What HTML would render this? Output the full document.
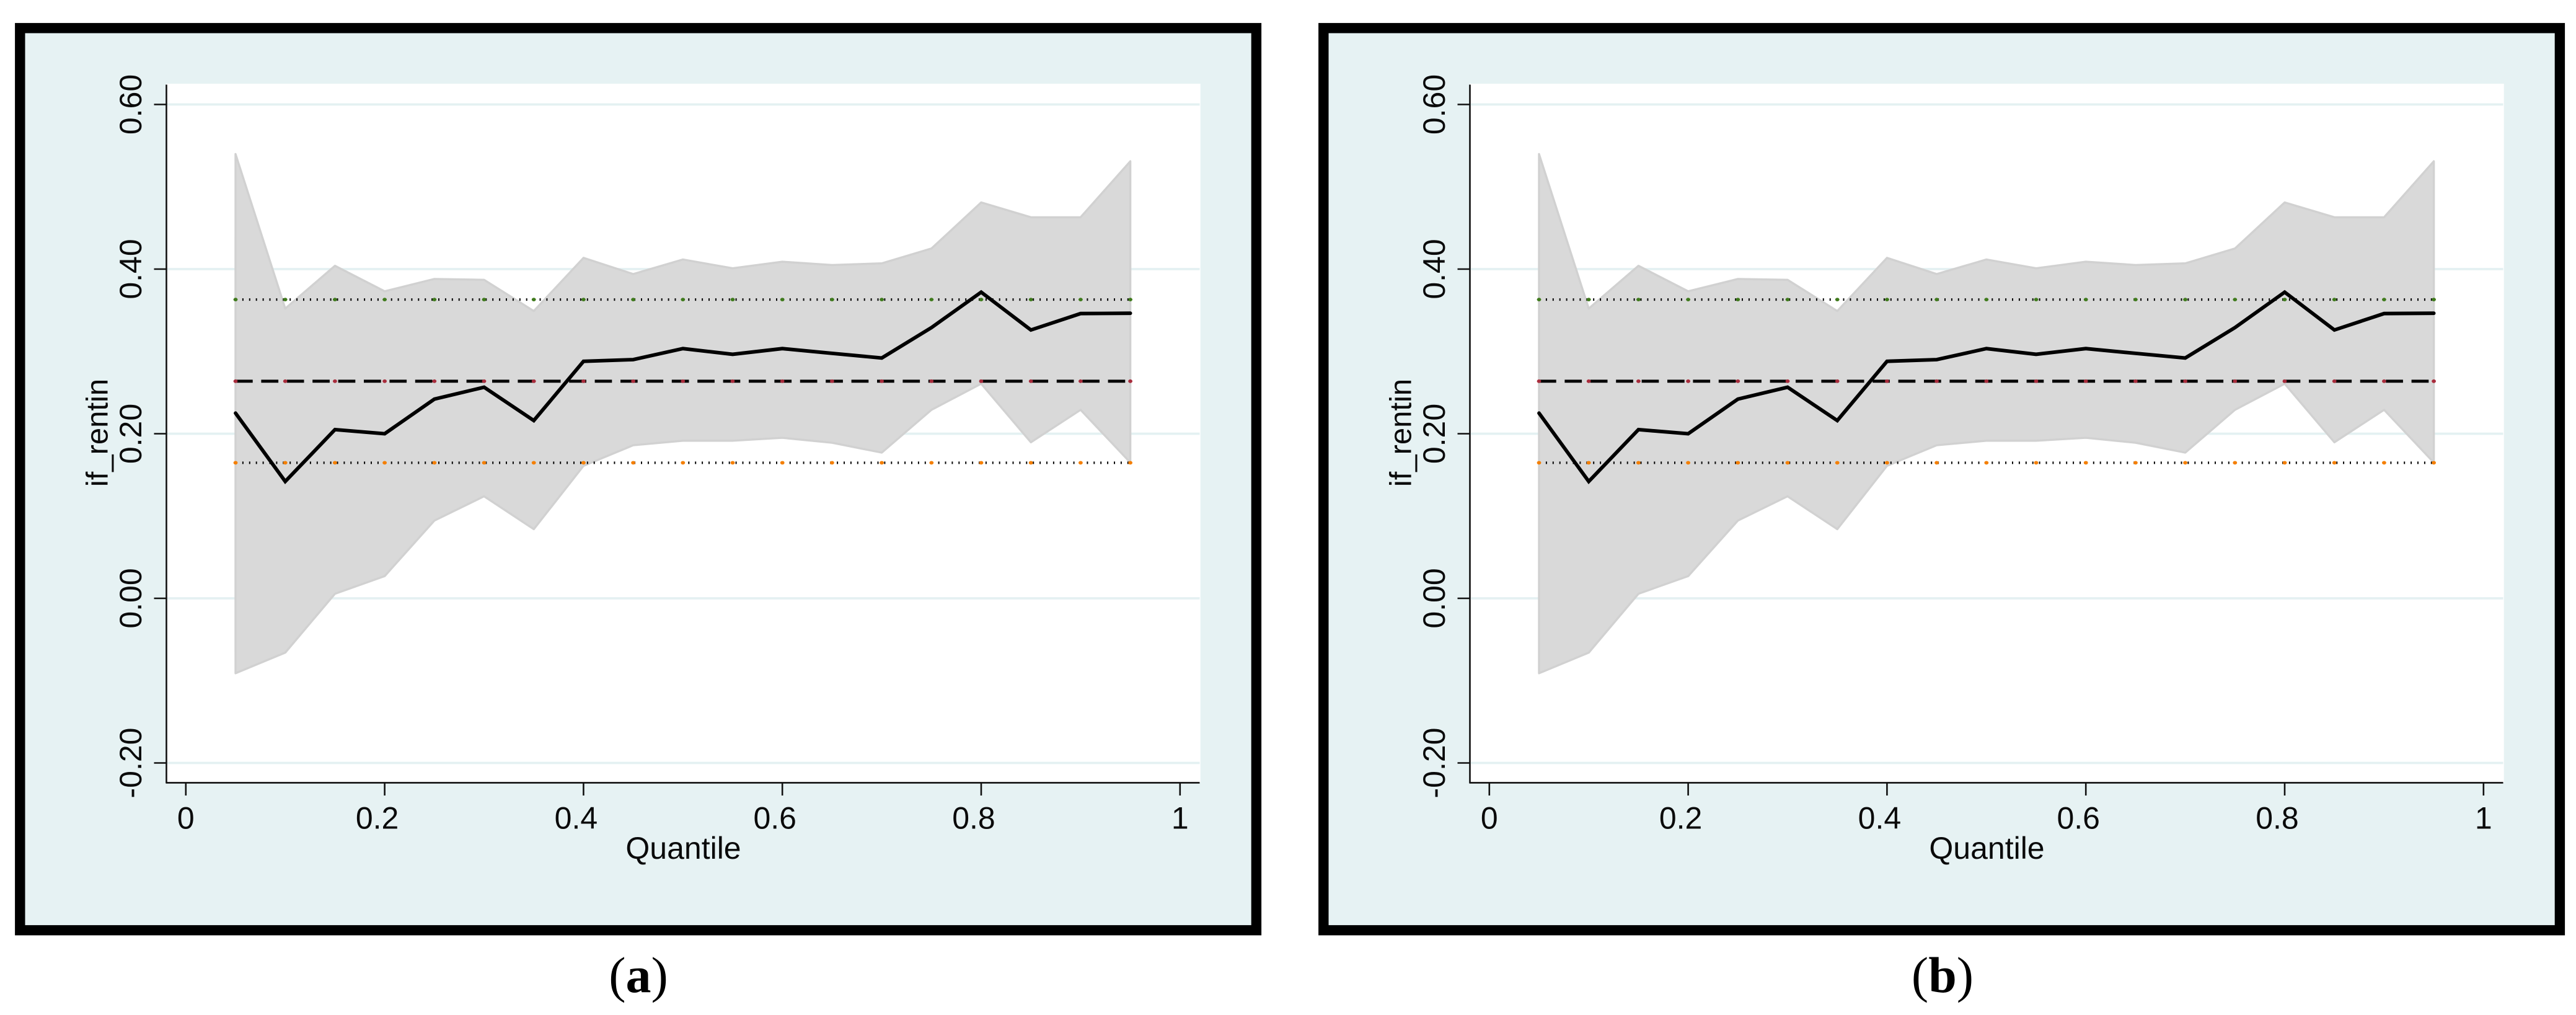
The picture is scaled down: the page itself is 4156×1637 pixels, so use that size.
<!DOCTYPE html>
<html lang="en">
<head>
<meta charset="utf-8">
<title>Quantile regression of if_rentin</title>
<style>
  html, body { margin: 0; padding: 0; background: #ffffff; }
  body { width: 4156px; height: 1637px; overflow: hidden; }
  svg { display: block; }
  .sans { font-family: "Liberation Sans", sans-serif; fill: #0a0a0a; }
  .serif { font-family: "Liberation Serif", serif; fill: #000000; }
</style>
</head>
<body>
<svg id="figure" xmlns="http://www.w3.org/2000/svg" width="4156" height="1637" viewBox="0 0 4156 1637">
  <g id="panel-a">
    <rect x="32.3" y="45.3" width="1994.6" height="1455" fill="#e6f2f3" stroke="#000000" stroke-width="16.4"/>
    <rect x="268.5" y="135" width="1668.2" height="1127" fill="#ffffff"/>
    <g class="marks"></g>
    <text class="sans" font-size="49" text-anchor="middle" transform="translate(173.5 698) rotate(-90)">if_rentin</text>
    <text class="sans" font-size="50" text-anchor="middle" x="1102.5" y="1385">Quantile</text>
    <text class="serif" font-size="82" text-anchor="middle" x="1030" y="1600">(<tspan font-weight="bold">a</tspan>)</text>
  </g>
  <g id="panel-b" transform="translate(2103 0)">
    <rect x="32.3" y="45.3" width="1994.6" height="1455" fill="#e6f2f3" stroke="#000000" stroke-width="16.4"/>
    <rect x="268.5" y="135" width="1668.2" height="1127" fill="#ffffff"/>
    <g class="marks"></g>
    <text class="sans" font-size="49" text-anchor="middle" transform="translate(173.5 698) rotate(-90)">if_rentin</text>
    <text class="sans" font-size="50" text-anchor="middle" x="1102.5" y="1385">Quantile</text>
    <text class="serif" font-size="82" text-anchor="middle" x="1031" y="1600">(<tspan font-weight="bold">b</tspan>)</text>
  </g>
</svg>
<script>
const quantiles = [0.05, 0.10, 0.15, 0.20, 0.25, 0.30, 0.35, 0.40, 0.45, 0.50, 0.55, 0.60, 0.65, 0.70, 0.75, 0.80, 0.85, 0.90, 0.95];
const estimates = [0.225, 0.142, 0.205, 0.200, 0.242, 0.2565, 0.216, 0.288, 0.290, 0.3034, 0.2965, 0.3034, 0.2976, 0.292, 0.329, 0.372, 0.326, 0.346, 0.3464];
const upperBand = [0.5397, 0.352, 0.404, 0.373, 0.388, 0.387, 0.349, 0.4136, 0.394, 0.4117, 0.401, 0.409, 0.405, 0.407, 0.425, 0.481, 0.463, 0.463, 0.531];
const lowerBand = [-0.091, -0.066, 0.0056, 0.027, 0.0945, 0.124, 0.084, 0.161, 0.186, 0.1915, 0.1915, 0.195, 0.189, 0.177, 0.229, 0.2607, 0.1896, 0.229, 0.165];
const olsUpper = 0.363;
const olsEstimate = 0.2638;
const olsLower = 0.1647;
const yTicks = [-0.2, 0, 0.2, 0.4, 0.6];
const yTickLabels = ["-0.20", "0.00", "0.20", "0.40", "0.60"];
const xTicks = [0, 0.2, 0.4, 0.6, 0.8, 1];
const xTickLabels = ["0", "0.2", "0.4", "0.6", "0.8", "1"];

const SVG_NS = "http://www.w3.org/2000/svg";
const xScale = function (q) { return 299.8 + 1604 * q; };
const yScale = function (v) { return 965 - 1327.5 * v; };

function shape(parent, tag, geometry) {
  const el = document.createElementNS(SVG_NS, tag);
  Object.keys(geometry).forEach(function (k) { el.setAttribute(k, geometry[k]); });
  parent.appendChild(el);
  return el;
}
function pointsOf(values) {
  return values.map(function (v, i) { return xScale(quantiles[i]).toFixed(1) + "," + yScale(v).toFixed(1); });
}

function drawPanel(root) {
  const marks = root.querySelector(".marks");

  yTicks.forEach(function (t, i) {
    const grid = shape(marks, "line", { x1: 270, x2: 1935.5, y1: yScale(t), y2: yScale(t), stroke: "#e4f1f2", "stroke-width": 3.8 });
    
    
    const tick = shape(marks, "line", { x1: 248.5, x2: 268.5, y1: yScale(t), y2: yScale(t), stroke: "#111111", "stroke-width": 2.6 });
    
    
    const label = shape(marks, "text", { "class": "sans", "font-size": 50, "text-anchor": "middle", transform: "translate(228 " + yScale(t) + ") rotate(-90)" });
    label.textContent = yTickLabels[i];
    
    
  });

  const band = shape(marks, "polygon", {
    points: pointsOf(upperBand).concat(pointsOf(lowerBand).reverse()).join(" "),
    fill: "#d9d9d9", stroke: "#d1d1d1", "stroke-width": 3.4, "stroke-linejoin": "round"
  });
  
  

  const x0 = xScale(quantiles[0]);
  const x1 = xScale(quantiles[quantiles.length - 1]);
  const upperLine = shape(marks, "line", { x1: x0, x2: x1, y1: yScale(olsUpper), y2: yScale(olsUpper), stroke: "#000000", "stroke-width": 4, "stroke-dasharray": "2 8.9" });
  
  
  const midLine = shape(marks, "line", { x1: x0, x2: x1, y1: yScale(olsEstimate), y2: yScale(olsEstimate), stroke: "#000000", "stroke-width": 4.8, "stroke-dasharray": "27.7 13.7" });
  
  
  const lowerLine = shape(marks, "line", { x1: x0, x2: x1, y1: yScale(olsLower), y2: yScale(olsLower), stroke: "#000000", "stroke-width": 4, "stroke-dasharray": "2 8.9" });
  
  

  quantiles.forEach(function (q) {
    const g = shape(marks, "ellipse", { cx: xScale(q), cy: yScale(olsUpper), rx: 3.4, ry: 2.9, fill: "#3f7a1c" });
    
    
    const r = shape(marks, "ellipse", { cx: xScale(q), cy: yScale(olsEstimate), rx: 3.4, ry: 2.9, fill: "#a82c3c" });
    
    
    const o = shape(marks, "ellipse", { cx: xScale(q), cy: yScale(olsLower), rx: 3.4, ry: 2.9, fill: "#f47f00" });
    
    
  });

  const line = shape(marks, "polyline", { points: pointsOf(estimates).join(" "), fill: "none", stroke: "#000000", "stroke-width": 5.8, "stroke-linejoin": "miter", "stroke-linecap": "round" });
  
  

  const yAxis = shape(marks, "line", { x1: 268.5, x2: 268.5, y1: 136.5, y2: 1263, stroke: "#111111", "stroke-width": 2.6 });
  
  
  const xAxis = shape(marks, "line", { x1: 267.5, x2: 1935.5, y1: 1262.4, y2: 1262.4, stroke: "#111111", "stroke-width": 2.6 });
  
  

  xTicks.forEach(function (t, i) {
    const tick = shape(marks, "line", { x1: xScale(t), x2: xScale(t), y1: 1262.4, y2: 1283, stroke: "#111111", "stroke-width": 2.6 });
    
    
    const shift = xTickLabels[i].length > 1 ? -12 : 0;
    const label = shape(marks, "text", { "class": "sans", "font-size": 50, "text-anchor": "middle", x: xScale(t) + shift, y: 1336.5 });
    label.textContent = xTickLabels[i];
    
    
  });
}

drawPanel(document.getElementById("panel-a"));
drawPanel(document.getElementById("panel-b"));
</script>
</body>
</html>
